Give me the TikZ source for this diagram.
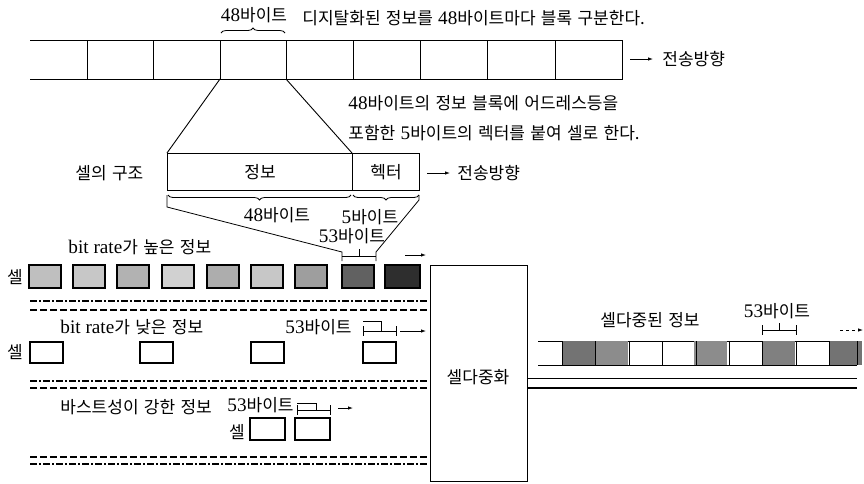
\documentclass[tikz,border=0pt]{standalone}
\usepackage{fontspec}
\setmainfont{Liberation Serif}[Scale=1.13]
\newfontfamily\kr{Noto Sans CJK KR}[WordSpace=1.4]
\usetikzlibrary{decorations.pathreplacing,arrows.meta}
\begin{document}
\begin{tikzpicture}[x=1pt,y=-1pt,line width=0.9pt,
  lbl/.style={inner sep=0pt,font=\fontsize{17}{19}\selectfont},
  wlbl/.style={lbl,anchor=west},
  arr/.style={-{Latex[length=5pt,width=3.5pt]},line width=0.8pt},
  brc/.style={decorate,decoration={brace,amplitude=5pt},line width=0.8pt},
  cellbox/.style={draw,line width=1.3pt},
  plaincell/.style={draw,line width=1.1pt},
  dd/.style={dash pattern=on 7pt off 2pt on 2pt off 2pt,line width=1.2pt},
  ds/.style={dash pattern=on 7pt off 3pt,line width=1.2pt},
  tick/.style={line width=0.8pt}]
\useasboundingbox (0,0) rectangle (864,483);

% ---------- top strip ----------
\draw (30,40) -- (622,40) -- (622,79) -- (30,79);
\foreach \x in {87,153,220,286,353,420,487,555}{\draw (\x,40) -- (\x,79);}
\coordinate (c3tl) at (220,40); \coordinate (c3tr) at (286,40);
\coordinate (c3bl) at (220,79); \coordinate (c3br) at (286,79);
\draw[brc] (221,33) -- (285,33);
\node[lbl] (t48) at (254,15) {48{\kr 바이트}};
\node[wlbl] (tdesc) at (302,18) {{\kr 디지탈화된 정보를 }48{\kr 바이트마다 블록 구분한다.}};
\coordinate (a1s) at (630,59); \coordinate (a1e) at (653,59);
\draw[arr] (a1s) -- (a1e);
\node[wlbl] (dir1) at (662,59) {\kr 전송방향};

% ---------- cell structure ----------
\node[wlbl] (d2a) at (348,103) {48{\kr 바이트의 정보 블록에 어드레스등을}};
\node[wlbl] (d2b) at (348,133) {{\kr 포함한 }5{\kr 바이트의 렉터를 붙여 셀로 한다.}};
\draw (167,153) rectangle (419,190);
\draw (352,153) -- (352,190);
\coordinate (itl) at (167,153); \coordinate (itr) at (352,153);
\draw (c3bl) -- (itl);
\draw (c3br) -- (itr);
\node[wlbl] (cs) at (75,173) {\kr 셀의 구조};
\node[lbl] (info) at (260,172) {\kr 정보};
\node[lbl] (hdr) at (386,172) {\kr 헥터};
\draw[arr] (427,173) -- (450,173);
\node[wlbl] (dir2) at (457,173) {\kr 전송방향};
\draw[brc] (351,195) -- (168,195);
\draw[brc] (419,195) -- (353,195);
\node[lbl] (b48) at (277,215) {48{\kr 바이트}};
\node[lbl] (b5) at (370,217) {5{\kr 바이트}};
\node[lbl] (b53) at (352,236) {53{\kr 바이트}};
\draw[line width=0.8pt] (167,195) -- (167,207) -- (342,252) -- (342,261);
\draw[line width=0.8pt] (419,195) -- (419,200) -- (376,252) -- (376,261);

% ---------- row 1 : high bit rate ----------
\node[wlbl] (r1t) at (68,247) {bit rate{\kr 가 높은 정보}};
\node[lbl] (r1s) at (15,277) {\kr 셀};
\foreach \x/\g in {29/25,73/22,117/30,162/18,207/32,251/22,295/38,342/62}{
  \draw[cellbox,fill=black!\g] (\x,265) rectangle ++(32,23);}
\draw[cellbox,fill=black!82] (385,265) rectangle (420,288);
\draw[tick] (342,256) -- (376,256);
\draw[tick] (359,256) -- (359,249);
\draw[arr] (405,255) -- (426,255);
\draw[dd] (30,301) -- (428,301);
\draw[ds] (30,310) -- (428,310);

% ---------- row 2 : low bit rate ----------
\node[wlbl] (r2t) at (60,327) {bit rate{\kr 가 낮은 정보}};
\node[wlbl] (r2b) at (285,327) {53{\kr 바이트}};
\node[lbl] (r2s) at (15,352) {\kr 셀};
\foreach \x in {30,140,251,363}{\draw[plaincell] (\x,342) rectangle ++(33,21);}
\draw[tick] (363,326) -- (363,336);
\draw[tick] (396,326) -- (396,336);
\draw[tick] (363,331) -- (396,331);
\draw[tick] (363,321) -- (381,321) -- (381,331);
\draw[arr] (400,331) -- (426,331);
\draw[dd] (30,381) -- (428,381);
\draw[ds] (30,388) -- (428,388);

% ---------- row 3 : bursty ----------
\node[wlbl] (r3t) at (60,407) {{\kr 바스트성이 강한 정보}};
\node[wlbl] (r3b) at (227,405) {53{\kr 바이트}};
\node[lbl] (r3s) at (237,432) {\kr 셀};
\draw[plaincell] (250,418) rectangle (285,440);
\draw[plaincell] (295,418) rectangle (330,440);
\draw[tick] (297,405) -- (297,415);
\draw[tick] (330,405) -- (330,415);
\draw[tick] (297,410) -- (330,410);
\draw[tick] (297,403) -- (316,403) -- (316,410);
\draw[arr] (338,408) -- (353,408);
\draw[ds] (30,457) -- (428,457);
\draw[dd] (30,464) -- (428,464);

% ---------- multiplexer ----------
\draw (430,265) rectangle (527,481);
\node[lbl] (mux) at (478,377) {\kr 셀다중화};

% ---------- multiplexed output ----------
\node[wlbl] (mt) at (600,320) {\kr 셀다중된 정보};
\node[lbl] (m53) at (777,311) {53{\kr 바이트}};
\draw (538,341) -- (857,341);
\draw (538,365) -- (857,365);
\foreach \x/\g in {562/55,595/45,694/45,762/50,829/55}{
  \fill[black!\g] (\x,341) rectangle ++(33,24);}
\foreach \x in {562,595,629,662,696,729,762,796,829,857}{\draw (\x,341) -- (\x,365);}
\draw[tick] (762,325) -- (762,335);
\draw[tick] (796,325) -- (796,335);
\draw[tick] (762,330) -- (796,330);
\draw[tick] (779,330) -- (779,323);
\draw[arr,dashed] (840,330) -- (863,330);
\draw[line width=1pt] (527,378) -- (857,378);
\draw[line width=1.6pt] (527,388) -- (857,388);
\end{tikzpicture}
\end{document}
